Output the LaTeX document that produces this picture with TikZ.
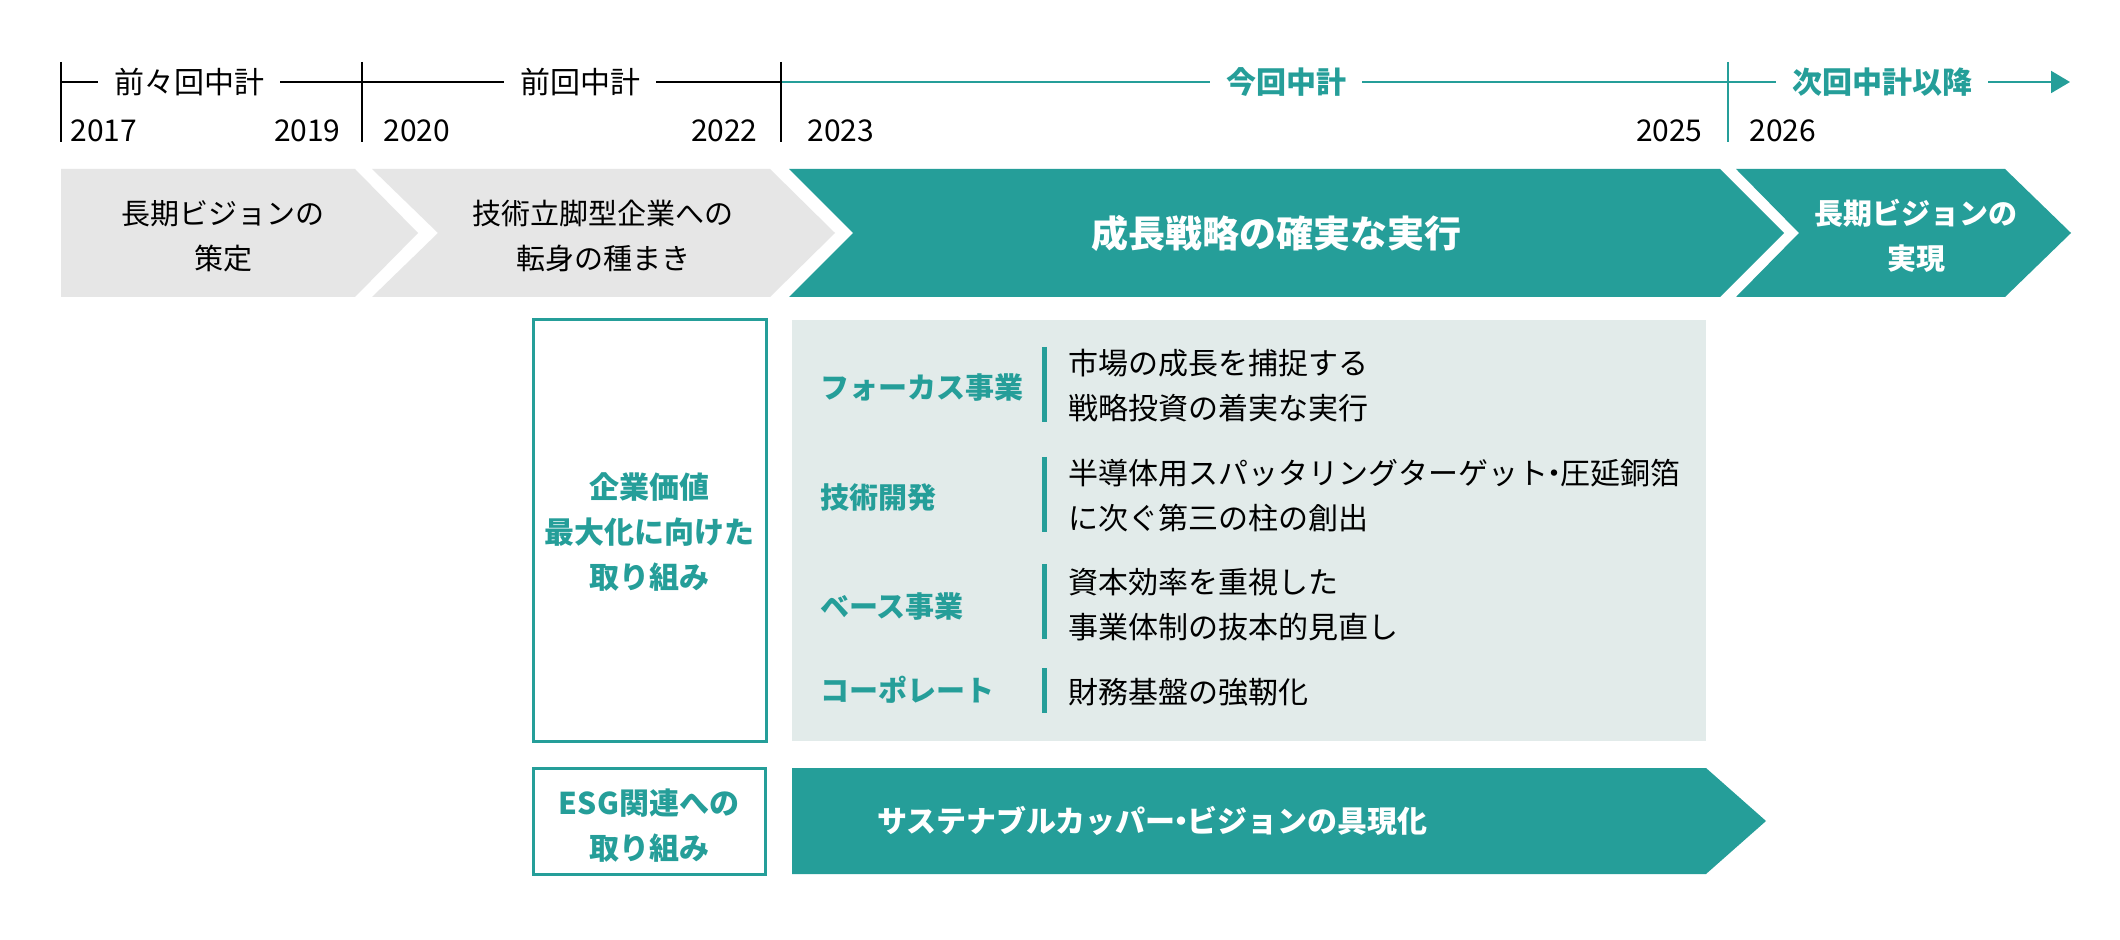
\documentclass[tikz,border=0pt]{standalone}
\usepackage{fontspec}
\setmainfont{Noto Sans CJK JP}
\usetikzlibrary{arrows.meta}
\definecolor{tealc}{HTML}{259E99}
\definecolor{grayc}{HTML}{E6E6E6}
\definecolor{panelc}{HTML}{E2EBEA}
\newcommand{\mydot}{\hbox to 0.4em{\hss ・\hss}}
\begin{document}
\begin{tikzpicture}[x=0.5pt,y=-0.5pt,
  every node/.style={inner sep=0pt},
  tl/.style={font=\fontsize{15}{18}\selectfont, inner xsep=8pt, inner ysep=0pt},
  tlb/.style={tl, font=\fontsize{15}{18}\selectfont\bfseries, text=tealc},
  yr/.style={font=\fontsize{15}{18}\selectfont},
  tline/.style={line width=1pt},
  chevgray/.style={fill=grayc},
  chevteal/.style={fill=tealc},
  ctext/.style={font=\fontsize{14.5}{22.5}\selectfont, align=center},
  cbold/.style={ctext, font=\fontsize{14.5}{22.5}\selectfont\bfseries, text=white},
  big/.style={font=\fontsize{18.5}{22}\selectfont\bfseries, text=white},
  boxtxt/.style={font=\fontsize{15}{22.5}\selectfont\bfseries, text=tealc, align=center},
  cat/.style={font=\fontsize{14.5}{18}\selectfont\bfseries, text=tealc, anchor=west},
  item/.style={font=\fontsize{15}{22.5}\selectfont, anchor=west, align=left},
  bar/.style={tealc, line width=2.5pt},
  obox/.style={draw=tealc, line width=1.5pt, fill=white}
]
\useasboundingbox[fill=white] (0,0) rectangle (2120,940);

% ---------- timeline ----------
\coordinate (t0) at (61,82);
\coordinate (t1) at (362,82);
\coordinate (t2) at (781,82);
\coordinate (t3) at (1728,82);
\coordinate (tend) at (2070,82);

\node[tl] (l1) at (189,82) {前々回中計};
\node[tl] (l2) at (580,82) {前回中計};
\node[tlb] (l3) at (1286,82) {今回中計};
\node[tlb] (l4) at (1882,82) {次回中計以降};

\draw[tline] (t0) -- (l1.west);
\draw[tline] (l1.east) -- (l2.west);
\draw[tline] (l2.east) -- (t2);
\draw[tline, tealc] (t2) -- (l3.west);
\draw[tline, tealc] (l3.east) -- (l4.west);
\draw[tline, tealc, -{Triangle[length=9.5pt,width=11pt]}] (l4.east) -- (tend);

\draw[tline] (61,62) -- (61,142);
\draw[tline] (362,62) -- (362,142);
\draw[tline] (781,62) -- (781,142);
\draw[tline, tealc] (1728,62) -- (1728,142);

\node[yr, anchor=base west] (y2017) at (70,142) {2017};
\node[yr, anchor=base east] (y2019) at (341,142) {2019};
\node[yr, anchor=base west] (y2020) at (383,142) {2020};
\node[yr, anchor=base east] (y2022) at (758,142) {2022};
\node[yr, anchor=base west] (y2023) at (807,142) {2023};
\node[yr, anchor=base east] (y2025) at (1703,142) {2025};
\node[yr, anchor=base west] (y2026) at (1749,142) {2026};

% ---------- chevrons ----------
\fill[chevgray] (61,169) -- (355,169) -- (418,233) -- (355,297) -- (61,297) -- cycle;
\fill[chevgray] (372,169) -- (770,169) -- (835,233) -- (770,297) -- (372,297) -- (438,233) -- cycle;
\fill[chevteal] (789,169) -- (1720,169) -- (1784,233) -- (1720,297) -- (789,297) -- (853,233) -- cycle;
\fill[chevteal] (1736,169) -- (2005,169) -- (2071,233) -- (2005,297) -- (1736,297) -- (1799,233) -- cycle;

\node[ctext] (c1) at (223,236) {長期ビジョンの\\策定};
\node[ctext] (c2) at (603,236) {技術立脚型企業への\\転身の種まき};
\node[big] (c3) at (1276,233) {成長戦略の確実な実行};
\node[cbold] (c4) at (1916,236) {長期ビジョンの\\実現};

% ---------- middle section ----------
\draw[obox] (533,320) rectangle (766,741);
\node[boxtxt] (kigyo) at (649,532) {企業価値\\最大化に向けた\\取り組み};

\fill[panelc] (792,320) rectangle (1706,741);

\node[cat] (k1) at (820,388) {フォーカス事業};
\node[cat] (k2) at (820,498) {技術開発};
\node[cat] (k3) at (820,607) {ベース事業};
\node[cat] (k4) at (820,690) {コーポレート};

\draw[bar] (1044,347) -- (1044,422);
\draw[bar] (1044,457) -- (1044,532);
\draw[bar] (1044,564) -- (1044,639);
\draw[bar] (1044,668) -- (1044,713);

\node[item] (i1) at (1068,386) {市場の成長を捕捉する\\戦略投資の着実な実行};
\node[item] (i2) at (1068,496) {半導体用スパッタリングターゲット\mydot 圧延銅箔\\に次ぐ第三の柱の創出};
\node[item] (i3) at (1068,605) {資本効率を重視した\\事業体制の抜本的見直し};
\node[item] (i4) at (1068,692) {財務基盤の強靭化};

% ---------- bottom ----------
\draw[obox] (533,768) rectangle (765,874);
\node[boxtxt] (esg) at (649,826) {ESG関連への\\取り組み};

\fill[chevteal] (792,768) -- (1706,768) -- (1766,821) -- (1706,874) -- (792,874) -- cycle;
\node[font=\fontsize{15}{18}\selectfont\bfseries, text=white, anchor=west] (sus) at (877,821) {サステナブルカッパー\mydot ビジョンの具現化};
\end{tikzpicture}
\end{document}
